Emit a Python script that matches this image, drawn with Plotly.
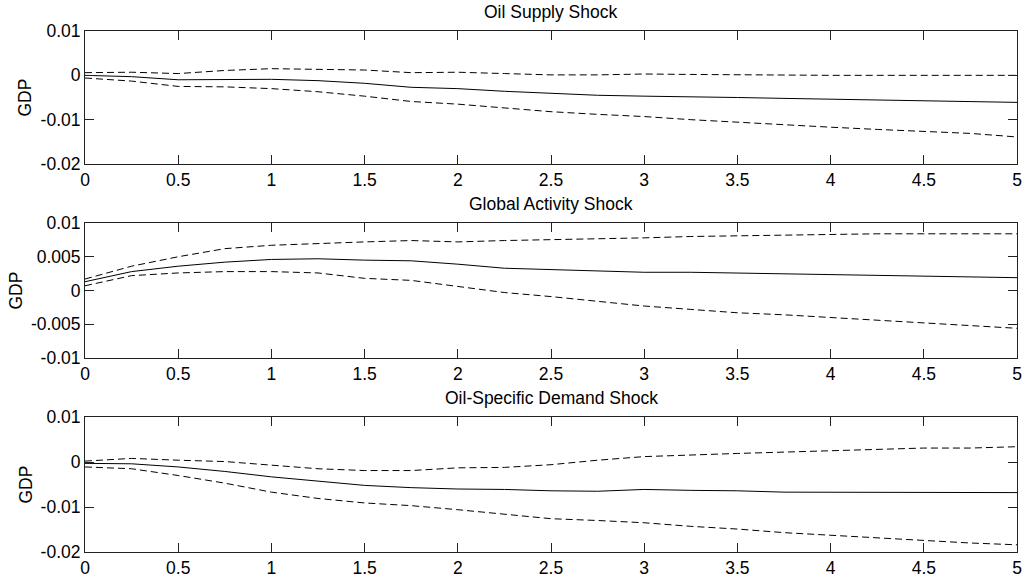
import plotly.graph_objects as go

# Horizon (years, quarterly steps)
t = [0, 0.25, 0.5, 0.75, 1.0, 1.25, 1.5, 1.75, 2.0, 2.25, 2.5, 2.75,
     3.0, 3.25, 3.5, 3.75, 4.0, 4.25, 4.5, 4.75, 5.0]

titles = ["Oil Supply Shock", "Global Activity Shock", "Oil-Specific Demand Shock"]

# Oil Supply Shock
supply_med = [0.0000, -0.0003, -0.0010, -0.0009, -0.0009, -0.0012, -0.0018, -0.0027,
              -0.0030, -0.0036, -0.0040, -0.0045, -0.0047, -0.0048, -0.0050, -0.0052,
              -0.0054, -0.0055, -0.0058, -0.0059, -0.0061]
supply_up = [0.0006, 0.0007, 0.0004, 0.0011, 0.0015, 0.0013, 0.0012, 0.0006,
             0.0007, 0.0004, 0.0001, 0.0001, 0.0003, 0.0002, 0.0001, 0.0000,
             0.0000, 0.0000, 0.0000, -0.0001, 0.0000]
supply_lo = [-0.0006, -0.0013, -0.0025, -0.0026, -0.0030, -0.0037, -0.0047, -0.0059,
             -0.0065, -0.0073, -0.0082, -0.0088, -0.0093, -0.0100, -0.0106, -0.0112,
             -0.0117, -0.0122, -0.0126, -0.0131, -0.0139]

# Global Activity Shock
activity_med = [0.0013, 0.0028, 0.0036, 0.0042, 0.0046, 0.0047, 0.0045, 0.0044,
                0.0039, 0.0033, 0.0031, 0.0029, 0.0027, 0.0027, 0.0026, 0.0025,
                0.0024, 0.0023, 0.0021, 0.0020, 0.0019]
activity_up = [0.0017, 0.0036, 0.0050, 0.0062, 0.0067, 0.0070, 0.0072, 0.0074,
               0.0072, 0.0074, 0.0075, 0.0076, 0.0078, 0.0080, 0.0081, 0.0083,
               0.0083, 0.0084, 0.0084, 0.0084, 0.0084]
activity_lo = [0.0007, 0.0022, 0.0026, 0.0028, 0.0028, 0.0026, 0.0018, 0.0015,
               0.0006, -0.0003, -0.0009, -0.0016, -0.0023, -0.0028, -0.0033, -0.0036,
               -0.0040, -0.0044, -0.0048, -0.0052, -0.0056]

# Oil-Specific Demand Shock
demand_med = [-0.0003, -0.0004, -0.0011, -0.0021, -0.0033, -0.0043, -0.0052, -0.0057,
              -0.0060, -0.0061, -0.0064, -0.0065, -0.0061, -0.0063, -0.0064, -0.0067,
              -0.0067, -0.0067, -0.0068, -0.0068, -0.0068]
demand_up = [0.0002, 0.0008, 0.0004, 0.0001, -0.0007, -0.0015, -0.0019, -0.0019,
             -0.0013, -0.0012, -0.0006, 0.0004, 0.0012, 0.0016, 0.0019, 0.0022,
             0.0025, 0.0028, 0.0031, 0.0031, 0.0034]
demand_lo = [-0.0011, -0.0015, -0.0030, -0.0047, -0.0067, -0.0081, -0.0091, -0.0097,
             -0.0106, -0.0116, -0.0126, -0.0130, -0.0135, -0.0143, -0.0149, -0.0157,
             -0.0163, -0.0169, -0.0174, -0.0180, -0.0184]

x_tickvals = [0, 0.5, 1, 1.5, 2, 2.5, 3, 3.5, 4, 4.5, 5]
x_ticktext = ["0", "0.5", "1", "1.5", "2", "2.5", "3", "3.5", "4", "4.5", "5"]

y_ticks_a = [0.01, 0, -0.01, -0.02]
y_text_a = ["0.01", "0", "-0.01", "-0.02"]
y_ticks_b = [0.01, 0.005, 0, -0.005, -0.01]
y_text_b = ["0.01", "0.005", "0", "-0.005", "-0.01"]

panels = [
    (supply_med, supply_up, supply_lo, y_ticks_a, y_text_a, [-0.02, 0.01]),
    (activity_med, activity_up, activity_lo, y_ticks_b, y_text_b, [-0.01, 0.01]),
    (demand_med, demand_up, demand_lo, y_ticks_a, y_text_a, [-0.02, 0.01]),
]

W, H = 1022, 576
x_left, x_right = 85, 1017
panel_px = [(31, 164), (223, 358), (417, 552)]
title_px = [12, 204, 398]
ylabel_x = [24, 15, 25]

FONT = "Liberation Sans, Arial, Helvetica, sans-serif"
FS = 17.5
fig = go.Figure()
layout = dict(
    width=W, height=H, margin=dict(l=0, r=0, t=0, b=0, autoexpand=False),
    paper_bgcolor="white", plot_bgcolor="white", showlegend=False,
    font=dict(family=FONT, size=FS, color="black"),
)
annotations = []
for i, (med, up, lo, yt, ytt, yr) in enumerate(panels):
    n = "" if i == 0 else str(i + 1)
    xa, ya = "x" + n, "y" + n
    for series, dash in ((up, "7px,4px"), (lo, "7px,4px"), (med, "solid")):
        fig.add_trace(go.Scatter(x=t, y=series, mode="lines", xaxis=xa, yaxis=ya,
                                 line=dict(color="black", width=1, dash=dash),
                                 hoverinfo="skip", cliponaxis=False))
    top, bot = panel_px[i]
    layout["xaxis" + n] = dict(
        domain=[x_left / W, x_right / W], anchor=ya, range=[0, 5],
        tickvals=x_tickvals, ticktext=x_ticktext, ticks="inside", ticklen=9,
        tickcolor="#222", showline=True, linecolor="#222", linewidth=1,
        mirror="ticks", showgrid=False, zeroline=False, automargin=False,
        tickfont=dict(family=FONT, size=FS, color="black"),
    )
    layout["yaxis" + n] = dict(
        domain=[1 - bot / H, 1 - top / H], anchor=xa, range=yr,
        tickvals=yt, ticktext=ytt, ticks="inside", ticklen=9,
        tickcolor="#222", showline=True, linecolor="#222", linewidth=1,
        mirror="ticks", showgrid=False, zeroline=False, automargin=False,
        tickfont=dict(family=FONT, size=FS, color="black"),
    )
    annotations.append(dict(text=titles[i], xref="paper", yref="paper",
                            x=(x_left + x_right) / 2 / W, y=1 - title_px[i] / H,
                            xanchor="center", yanchor="middle", showarrow=False,
                            font=dict(family=FONT, size=FS, color="black")))
    annotations.append(dict(text="GDP", xref="paper", yref="paper",
                            x=ylabel_x[i] / W, y=1 - (top + bot) / 2 / H,
                            xanchor="center", yanchor="middle", showarrow=False,
                            textangle=-90,
                            font=dict(family=FONT, size=FS, color="black")))
layout["annotations"] = annotations
fig.update_layout(**layout)
fig.write_html("out.html",
               config={"displayModeBar": False},
               post_script="document.body.style.margin='0';document.body.style.overflow='hidden';")
